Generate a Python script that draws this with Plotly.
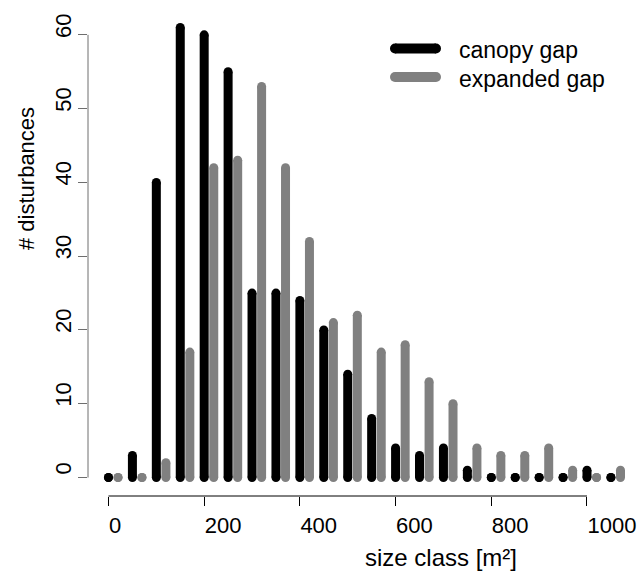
import plotly.graph_objects as go

# Disturbance counts per size class (m²)
size_class = [0, 50, 100, 150, 200, 250, 300, 350, 400, 450, 500,
              550, 600, 650, 700, 750, 800, 850, 900, 950, 1000, 1050]
canopy_gap = [0, 3, 40, 61, 60, 55, 25, 25, 24, 20, 14,
              8, 4, 3, 4, 1, 0, 0, 0, 0, 1, 0]
expanded_gap = [0, 0, 2, 17, 42, 43, 53, 42, 32, 21, 22,
                17, 18, 13, 10, 4, 3, 3, 4, 1, 0, 1]

x_ticks = [0, 200, 400, 600, 800, 1000]
y_ticks = [0, 10, 20, 30, 40, 50, 60]

series_names = ["canopy gap", "expanded gap"]
series_colors = ["#000000", "#808080"]

FONT = "Liberation Sans"
FS = 22
GAP_OFFSET = 20  # expanded-gap stems sit just right of the class value
STEM_W = 9

X_RANGE = [-42.8, 1106.6]
Y_RANGE = [-2.5, 63.5]


def stems(xs, ys, offset):
    """Vertical stems from 0 up to each value, separated by gaps."""
    sx, sy = [], []
    for x, y in zip(xs, ys):
        sx += [x + offset, x + offset, None]
        sy += [0, y, None]
    return sx, sy


fig = go.Figure()
for vals, off, color, name in [(canopy_gap, 0, series_colors[0], series_names[0]),
                               (expanded_gap, GAP_OFFSET, series_colors[1], series_names[1])]:
    sx, sy = stems(size_class, vals, off)
    fig.add_trace(go.Scatter(
        x=sx, y=sy, mode="lines+markers", name=name,
        line=dict(color=color, width=STEM_W),
        marker=dict(color=color, size=STEM_W, symbol="circle", line=dict(width=0)),
        connectgaps=False, hoverinfo="skip", showlegend=False,
    ))

# Axis lines spanning only the tick range
shapes = [
    dict(type="line", xref="x", yref="paper", x0=x_ticks[0], x1=x_ticks[-1], y0=0, y1=0,
         line=dict(color="#000000", width=1)),
    dict(type="line", xref="paper", yref="y", x0=0, x1=0, y0=y_ticks[0], y1=y_ticks[-1],
         line=dict(color="#6e6e6e", width=1)),
]

# Legend keys: thick round-ended strokes
plot_left, plot_w = 88, 550
plot_bottom, plot_h = 496, 487


def px_x(px):
    return (px - plot_left) / plot_w


def px_y(py):
    return (plot_bottom - py) / plot_h


legend_rows = [48.5, 77]
key_x0, key_x1 = 395, 436
annotations = []
for row_y, color, name in zip(legend_rows, series_colors, series_names):
    shapes.append(dict(type="line", xref="paper", yref="paper",
                       x0=px_x(key_x0), x1=px_x(key_x1), y0=px_y(row_y), y1=px_y(row_y),
                       line=dict(color=color, width=10)))
    for cx in (key_x0, key_x1):
        shapes.append(dict(type="circle", xref="paper", yref="paper",
                           xsizemode="pixel", ysizemode="pixel",
                           xanchor=px_x(cx), yanchor=px_y(row_y),
                           x0=-5, x1=5, y0=-5, y1=5,
                           fillcolor=color, line=dict(width=0)))
    annotations.append(dict(text=name, xref="paper", yref="paper",
                            x=px_x(457), y=px_y(row_y + 2), xanchor="left", yanchor="middle",
                            showarrow=False, font=dict(family=FONT, size=23, color="#000000")))

# Axis titles
annotations.append(dict(text="size class [m²]", xref="paper", yref="paper",
                        x=0.5, y=px_y(557), xanchor="left", yanchor="middle",
                        showarrow=False, font=dict(family=FONT, size=24, color="#000000")))
annotations.append(dict(text="# disturbances", xref="paper", yref="paper",
                        x=px_x(26), y=0.5, xanchor="center", yanchor="bottom",
                        textangle=-90, showarrow=False,
                        font=dict(family=FONT, size=FS, color="#000000")))

fig.update_layout(
    width=638, height=576,
    margin=dict(l=88, r=0, t=9, b=80),
    paper_bgcolor="white", plot_bgcolor="white",
    showlegend=False,
    shapes=shapes, annotations=annotations,
    xaxis=dict(range=X_RANGE, tickvals=x_ticks, ticks="outside", ticklen=9,
               tickcolor="#000000", tickwidth=1, showline=False, showgrid=False,
               zeroline=False, ticklabelposition="outside right", ticklabelstandoff=10,
               tickfont=dict(family=FONT, size=FS, color="#000000")),
    yaxis=dict(range=Y_RANGE, tickvals=y_ticks, ticks="outside", ticklen=9,
               tickcolor="#6e6e6e", tickwidth=1, showline=False, showgrid=False,
               zeroline=False, tickangle=-90, ticklabelposition="outside top",
               ticklabelshift=10, ticklabelstandoff=7,
               tickfont=dict(family=FONT, size=FS, color="#000000")),
)

fig.write_html("out.html")
